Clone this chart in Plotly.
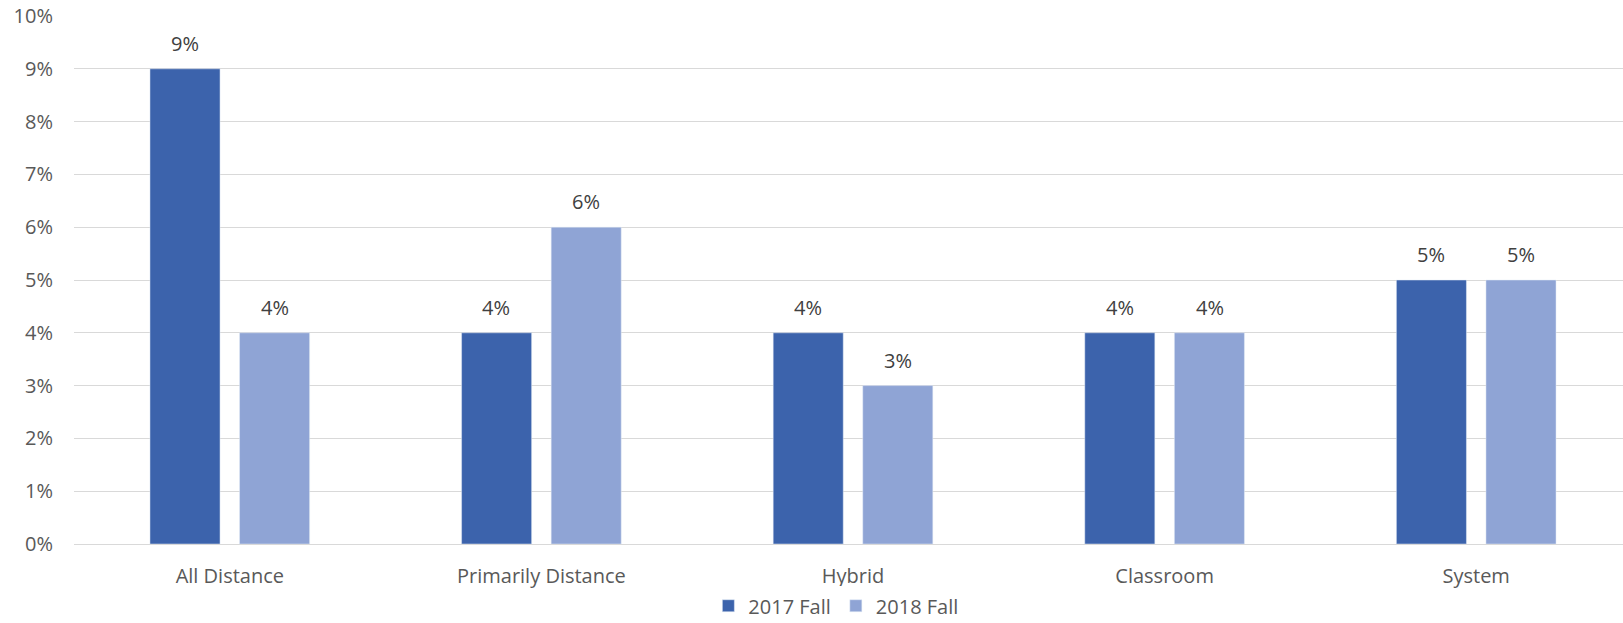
import plotly.graph_objects as go

categories = ["All Distance", "Primarily Distance", "Hybrid", "Classroom", "System"]
fall_2017 = [0.09, 0.04, 0.04, 0.04, 0.05]
fall_2018 = [0.04, 0.06, 0.03, 0.04, 0.05]
tick_vals = [0, 0.01, 0.02, 0.03, 0.04, 0.05, 0.06, 0.07, 0.08, 0.09, 0.10]
tick_text = ["0%", "1%", "2%", "3%", "4%", "5%", "6%", "7%", "8%", "9%", "10%"]

font_family = "Open Sans, Liberation Sans, sans-serif"
series = [("2017 Fall", fall_2017, "#3C63AC", -45), ("2018 Fall", fall_2018, "#8FA4D5", 45)]

fig = go.Figure()
for name, vals, color, shift in series:
    fig.add_trace(go.Bar(name=name, x=categories, y=vals, marker_color=color))
    for c, v in zip(categories, vals):
        fig.add_annotation(
            x=c, y=v, text=f"{v:.0%}", showarrow=False,
            xshift=shift, yshift=10, yanchor="bottom",
            font=dict(size=20, color="#404040", family=font_family),
        )

fig.update_layout(
    width=1632, height=623,
    margin=dict(l=74, r=0, t=16, b=79, autoexpand=False),
    paper_bgcolor="white", plot_bgcolor="white",
    barmode="group", bargap=0.425, bargroupgap=0.218,
    font=dict(family=font_family, size=20, color="#595959"),
    legend=dict(orientation="h", x=0.489, xanchor="center", y=-0.08, yanchor="top",
                font=dict(size=20, color="#595959"), traceorder="normal",
                itemwidth=30),
    showlegend=True,
)
fig.update_yaxes(
    range=[0, 0.10], tickvals=tick_vals, ticktext=tick_text,
    showgrid=True, gridcolor="#D9D9D9", gridwidth=1, automargin=False,
    zeroline=False, showline=False, ticks="", ticklabelstandoff=20,
    tickfont=dict(size=20, color="#595959"),
)
fig.update_xaxes(
    showline=True, linecolor="#D9D9D9", linewidth=1, ticks="", automargin=False,
    ticklabelstandoff=14,
    tickfont=dict(size=20, color="#595959"),
)

fig.write_html(
    "out.html",
    config={"displayModeBar": False},
    post_script="document.body.style.margin='0';document.body.style.overflow='hidden';",
)
